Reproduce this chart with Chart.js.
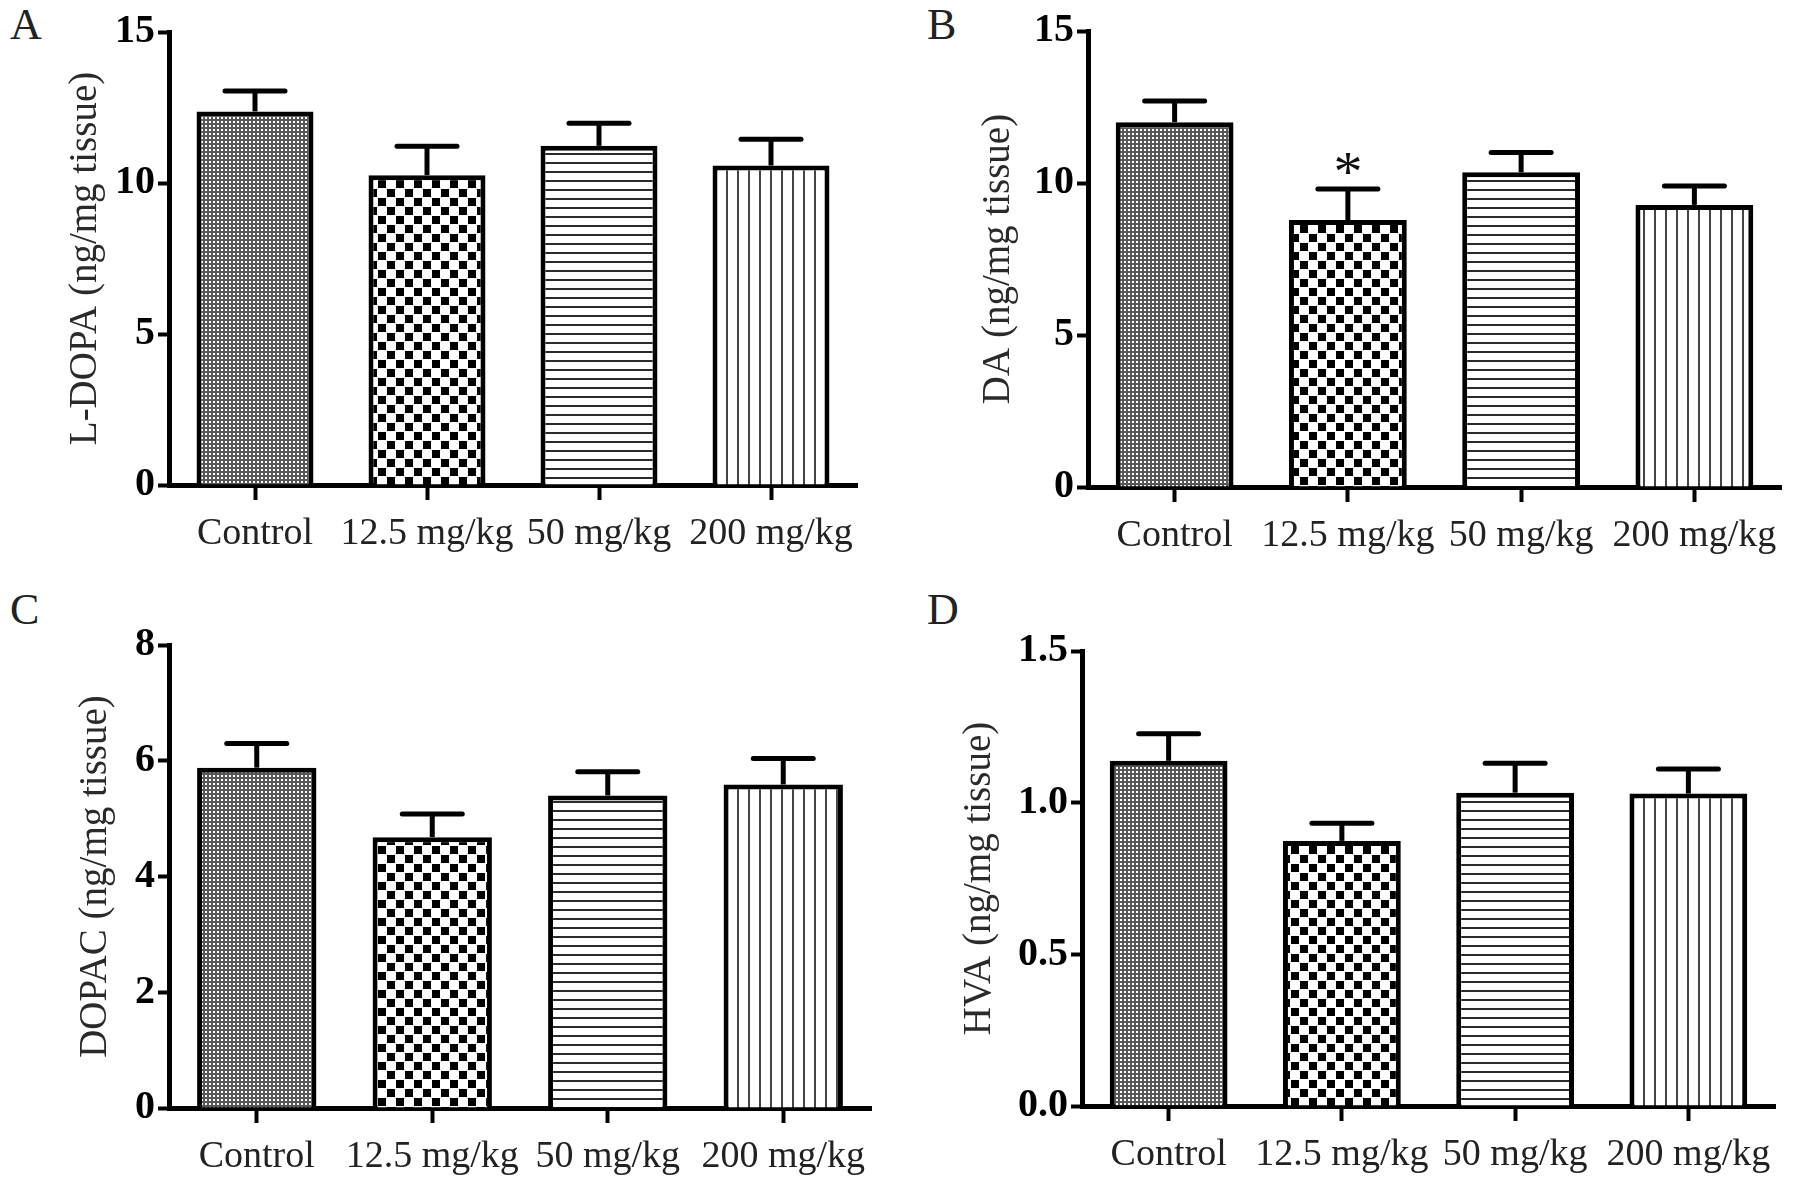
<!DOCTYPE html>
<html>
<head>
<meta charset="utf-8">
<script src="https://cdn.jsdelivr.net/npm/chart.js@4.4.0/dist/chart.umd.min.js"></script>
<style>
body { margin: 0; background: #fff; }
#wrap { position: relative; width: 1795px; height: 1194px; overflow: hidden; }
#wrap canvas { position: absolute; }
.tag { position: absolute; font-family: 'Liberation Serif', serif; font-size: 44px; line-height: 1; color: #222; }
</style>
</head>
<body>
<div id="wrap">
  <div class="tag" style="left:10px;top:3px">A</div>
  <div class="tag" style="left:927px;top:3px">B</div>
  <div class="tag" style="left:10px;top:588px">C</div>
  <div class="tag" style="left:927px;top:588px">D</div>
  <canvas id="cA" width="895" height="594" style="left:0;top:0"></canvas>
  <canvas id="cB" width="900" height="594" style="left:895px;top:0"></canvas>
  <canvas id="cC" width="895" height="600" style="left:0;top:594px"></canvas>
  <canvas id="cD" width="900" height="600" style="left:895px;top:594px"></canvas>
</div>
<script>
// groups
const categories = ['Control', '12.5 mg/kg', '50 mg/kg', '200 mg/kg'];

// means and SEM
const ldopaMean = [12.37, 10.26, 11.23, 10.58];
const ldopaSem = [0.68, 0.96, 0.75, 0.87];
const daMean = [12.0, 8.78, 10.35, 9.28];
const daSem = [0.70, 1.02, 0.65, 0.62];
const dopacMean = [5.88, 4.68, 5.40, 5.59];
const dopacSem = [0.42, 0.40, 0.41, 0.45];
const hvaMean = [1.138, 0.874, 1.033, 1.030];
const hvaSem = [0.089, 0.058, 0.097, 0.081];
const daMarks = ['', '*', '', ''];

// y ticks
const ldopaTicks = [0, 5, 10, 15];
const daTicks = [0, 5, 10, 15];
const dopacTicks = [0, 2, 4, 6, 8];
const hvaTicks = [0, 0.5, 1.0, 1.5];
const hvaTickLabels = ['0.0', '0.5', '1.0', '1.5'];

const SERIF = "'Liberation Serif', 'Times New Roman', serif";

function makePattern(kind) {
    const c = document.createElement('canvas');
    const g = c.getContext('2d');
    if (kind === 'dots') {
        c.width = 4; c.height = 4;
        g.fillStyle = '#575757'; g.fillRect(0, 0, 4, 4);
        g.fillStyle = '#fff'; g.fillRect(1, 1, 2, 2);
    } else if (kind === 'checker') {
        c.width = 18; c.height = 18;
        g.fillStyle = '#fff'; g.fillRect(0, 0, 18, 18);
        g.fillStyle = '#000'; g.fillRect(0, 0, 8, 8); g.fillRect(9, 9, 8, 8);
    } else if (kind === 'hlines') {
        c.width = 4; c.height = 9;
        g.fillStyle = '#fff'; g.fillRect(0, 0, 4, 9);
        g.fillStyle = '#2a2a2a'; g.fillRect(0, 0, 4, 2);
    } else {
        c.width = 11; c.height = 4;
        g.fillStyle = '#fff'; g.fillRect(0, 0, 11, 4);
        g.fillStyle = '#444'; g.fillRect(0, 0, 2, 4);
    }
    return g.createPattern(c, 'repeat');
}
const fills = ['dots', 'checker', 'hlines', 'vlines'].map(makePattern);

// error bars (upper only) and significance marks
const errorBars = {
    id: 'errorBars',
    afterDatasetsDraw(chart) {
        const ds = chart.data.datasets[0];
        const meta = chart.getDatasetMeta(0);
        const y = chart.scales.y;
        const ctx = chart.ctx;
        ctx.save();
        ctx.strokeStyle = '#000';
        ctx.fillStyle = '#111';
        ctx.lineWidth = 5;
        meta.data.forEach((bar, i) => {
            const top = y.getPixelForValue(ds.data[i] + ds.sem[i]);
            ctx.lineCap = 'butt';
            ctx.beginPath(); ctx.moveTo(bar.x, bar.y); ctx.lineTo(bar.x, top); ctx.stroke();
            ctx.lineCap = 'round';
            ctx.beginPath(); ctx.moveTo(bar.x - 30, top); ctx.lineTo(bar.x + 30, top); ctx.stroke();
            if (ds.marks && ds.marks[i]) {
                ctx.font = '58px ' + SERIF;
                ctx.textAlign = 'center';
                ctx.textBaseline = 'alphabetic';
                ctx.fillText(ds.marks[i], bar.x, top + 2);
            }
        });
        ctx.restore();
    }
};

function panel(id, title, mean, sem, ticks, tickLabels, marks, lay) {
    new Chart(document.getElementById(id), {
        type: 'bar',
        data: {
            labels: categories,
            datasets: [{ data: mean, sem: sem, marks: marks, backgroundColor: fills, borderColor: '#000', borderWidth: 5, barPercentage: 0.68, categoryPercentage: 1 }]
        },
        options: {
            responsive: false, animation: false, devicePixelRatio: 1,
            layout: { padding: { left: 0, top: lay.top, right: lay.right, bottom: 0 } },
            plugins: { legend: { display: false }, tooltip: { enabled: false } },
            scales: {
                x: {
                    offset: true,
                    grid: { display: true, offset: false, drawOnChartArea: false, drawTicks: true, tickLength: 15, tickWidth: 4, tickColor: '#000' },
                    border: { display: true, color: '#000', width: 5 },
                    ticks: { color: '#222', padding: 11, font: { family: SERIF, size: 38 }, maxRotation: 0, autoSkip: false },
                    afterFit: s => { s.height = lay.xh; }
                },
                y: {
                    min: ticks[0], max: ticks[ticks.length - 1],
                    afterBuildTicks: s => { s.ticks = ticks.map(v => ({ value: v })); },
                    grid: { display: true, drawOnChartArea: false, drawTicks: true, tickLength: 11, tickWidth: 4, tickColor: '#000' },
                    border: { display: true, color: '#000', width: 5 },
                    ticks: { color: '#000', padding: 3, font: { family: SERIF, size: 40, weight: 'bold' }, callback: (v, i) => tickLabels ? tickLabels[i] : String(v) },
                    title: { display: true, text: title, color: '#2a2a2a', font: { family: SERIF, size: 39 }, padding: { top: lay.tp, bottom: 0 } },
                    afterFit: s => { s.width = lay.yw; }
                }
            }
        },
        plugins: [errorBars]
    });
}

panel('cA', 'L-DOPA (ng/mg tissue)', ldopaMean, ldopaSem, ldopaTicks, null, null, { top: 32, right: 38, xh: 109, yw: 169, tp: 62 });
panel('cB', 'DA (ng/mg tissue)', daMean, daSem, daTicks, null, daMarks, { top: 31, right: 14, xh: 107, yw: 193, tp: 80 });
panel('cC', 'DOPAC (ng/mg tissue)', dopacMean, dopacSem, dopacTicks, null, null, { top: 51, right: 24, xh: 86, yw: 169, tp: 72 });
panel('cD', 'HVA (ng/mg tissue)', hvaMean, hvaSem, hvaTicks, hvaTickLabels, null, { top: 57, right: 20, xh: 88, yw: 187, tp: 61 });
</script>
</body>
</html>
